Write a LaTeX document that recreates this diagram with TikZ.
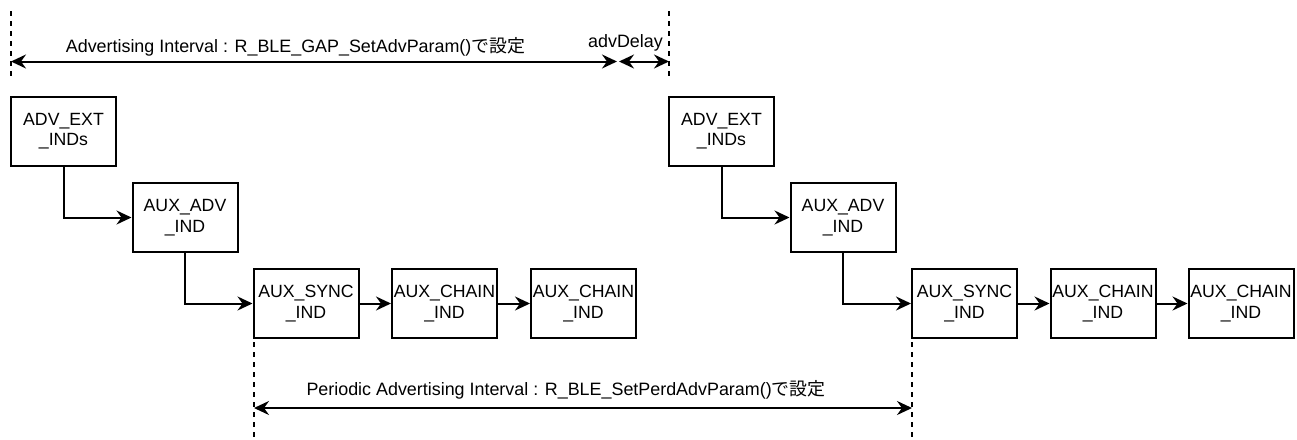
\documentclass[tikz,border=0pt]{standalone}
\usepackage{fontspec}
\setmainfont{Liberation Sans}
\newfontfamily\cjk{Noto Sans CJK JP}
\usetikzlibrary{arrows.meta}
\begin{document}
\begin{tikzpicture}[x=1pt,y=-1pt,
  box/.style={draw=black,line width=2pt,minimum width=105pt,minimum height=69pt,inner sep=0pt,align=center,font=\fontsize{17.7}{20.5}\selectfont},
  tip/.style={},
  arr/.style={line width=2pt,-{Stealth[length=15pt,width=14pt,inset=5pt]}},
  darr/.style={line width=2pt,{Stealth[length=15pt,width=14pt,inset=5pt]}-{Stealth[length=15pt,width=14pt,inset=5pt]}},
  guide/.style={line width=1.5pt,dash pattern=on 5pt off 5pt},
  lbl/.style={inner sep=0pt,anchor=base,font=\fontsize{17.9}{20}\selectfont}]
\useasboundingbox (0,0) rectangle (1297,439);
% left group
\node[box] (b1) at (63.5,131) {ADV\_EXT\\\_INDs};
\node[box] (b2) at (185,217.5) {AUX\_ADV\\\_IND};
\node[box] (b3) at (306,303.5) {AUX\_SYNC\\\_IND};
\node[box] (b4) at (444.5,303.5) {AUX\_CHAIN\\\_IND};
\node[box] (b5) at (583.5,303.5) {AUX\_CHAIN\\\_IND};
% right group
\node[box] (c1) at (721.5,131) {ADV\_EXT\\\_INDs};
\node[box] (c2) at (843,217.5) {AUX\_ADV\\\_IND};
\node[box] (c3) at (964.5,303.5) {AUX\_SYNC\\\_IND};
\node[box] (c4) at (1103,303.5) {AUX\_CHAIN\\\_IND};
\node[box] (c5) at (1241,303.5) {AUX\_CHAIN\\\_IND};
% connectors
\draw[arr] (b1.south) |- (b2.west);
\draw[arr] (b2.south) |- (b3.west);
\draw[arr] (b3) -- (b4);
\draw[arr] (b4) -- (b5);
\draw[arr] (c1.south) |- (c2.west);
\draw[arr] (c2.south) |- (c3.west);
\draw[arr] (c3) -- (c4);
\draw[arr] (c4) -- (c5);
% guides
\coordinate (t1a) at (11,11); \coordinate (t1b) at (11,80);
\coordinate (t2a) at (669,11); \coordinate (t2b) at (669,80);
\coordinate (u1a) at (254,342); \coordinate (u1b) at (254,439);
\coordinate (u2a) at (912,342); \coordinate (u2b) at (912,439);
\draw[guide] (t1a) -- (t1b);
\draw[guide] (t2a) -- (t2b);
\draw[guide] (u1a) -- (u1b);
\draw[guide] (u2a) -- (u2b);
% interval arrows
\coordinate (a1) at (11,61.5); \coordinate (a2) at (617,61.5);
\coordinate (a3) at (619,61.5); \coordinate (a4) at (669,61.5);
\coordinate (p1) at (254,408); \coordinate (p2) at (912,408);
\draw[darr] (a1) -- (a2);
\draw[darr] (a3) -- (a4);
\draw[darr] (p1) -- (p2);
% labels
\node[lbl] (l1) at (295.5,52) {Advertising Interval : R\_BLE\_GAP\_SetAdvParam(){\cjk で設定}};
\node[lbl] (l2) at (625.5,47) {advDelay};
\node[lbl] (l3) at (566,395) {Periodic Advertising Interval : R\_BLE\_SetPerdAdvParam(){\cjk で設定}};
\end{tikzpicture}
\end{document}
